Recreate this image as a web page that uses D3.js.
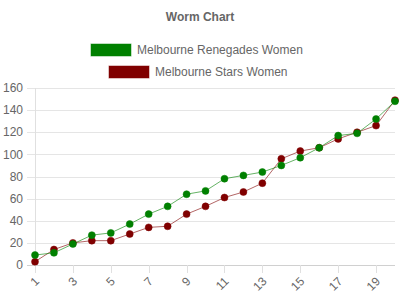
<!DOCTYPE html>
<html>
<head>
<meta charset="utf-8">
<script src="https://cdn.jsdelivr.net/npm/d3@7"></script>
<style>
  body { margin: 0; background: #fff; }
  text { font-family: "Liberation Sans", Arial, sans-serif; }
</style>
</head>
<body>
<script>
// Data
var overs = d3.range(1, 21);
var renegades = [9, 11, 19, 27, 29, 37, 46, 53, 64, 67, 78, 81, 84, 90, 97, 106, 117, 119, 132, 148];
var stars = [3, 14, 20, 22, 22, 28, 34, 35, 46, 53, 61, 66, 74, 96, 103, 106, 114, 120, 126, 149];
var yTicks = [0, 20, 40, 60, 80, 100, 120, 140, 160];

var series = [
    { name: "Melbourne Renegades Women", values: renegades, fill: "#008000", line: "rgba(0,128,0,0.6)", border: "rgba(0,128,0,0.5)" },
    { name: "Melbourne Stars Women", values: stars, fill: "#800000", line: "rgba(128,0,0,0.6)", border: "rgba(128,0,0,0.5)" }
];

var margin = { top: 88, right: 5, bottom: 35, left: 35 },
    width = 400 - margin.left - margin.right,
    height = 300 - margin.top - margin.bottom;

var svg = d3.select("body")
    .append("svg")
    .attr("width", 400)
    .attr("height", 300);

// Title
svg.append("text")
    .attr("x", 200)
    .attr("y", 21)
    .attr("text-anchor", "middle")
    .style("font-size", "12px")
    .style("font-weight", "bold")
    .style("fill", "#666")
    .text("Worm Chart");

// Legend
var legendRows = [{ y: 44, bx: 91 }, { y: 66, bx: 109 }];
series.forEach(function (s, i) {
    var r = legendRows[i];
    svg.append("rect")
        .attr("x", r.bx)
        .attr("y", r.y)
        .attr("width", 40)
        .attr("height", 12)
        .style("fill", s.fill)
        .style("stroke", s.border)
        .style("stroke-width", 1);
    svg.append("text")
        .attr("x", r.bx + 46)
        .attr("y", r.y + 10)
        .style("font-size", "12px")
        .style("fill", "#666")
        .text(s.name);
});

var g = svg.append("g")
    .attr("transform", "translate(" + margin.left + "," + margin.top + ")");

var x = d3.scalePoint()
    .domain(overs)
    .range([0, width]);

var y = d3.scaleLinear()
    .domain([0, 160])
    .range([height, 0]);

// Gridlines
g.selectAll(".grid")
    .data(yTicks)
    .enter().append("line")
    .attr("x1", -8)
    .attr("x2", width)
    .attr("y1", function (d) { return Math.round(y(d)) + 0.5; })
    .attr("y2", function (d) { return Math.round(y(d)) + 0.5; })
    .style("stroke", function (d) { return d === 0 ? "#d0d0d0" : "#e5e5e5"; })
    .style("stroke-width", 1);

// Y axis line
g.append("line")
    .attr("x1", 0.5).attr("x2", 0.5)
    .attr("y1", 0).attr("y2", height + 8)
    .style("stroke", "#e0e0e0");

// X tick marks for odd overs
var oddOvers = overs.filter(function (d) { return d % 2 === 1; });
g.selectAll(".xtick")
    .data(oddOvers)
    .enter().append("line")
    .attr("x1", function (d) { return Math.round(x(d)) + 0.5; })
    .attr("x2", function (d) { return Math.round(x(d)) + 0.5; })
    .attr("y1", height)
    .attr("y2", height + 8)
    .style("stroke", "#e0e0e0");

// Y tick labels
g.selectAll(".ylabel")
    .data(yTicks)
    .enter().append("text")
    .attr("x", -12)
    .attr("y", function (d) { return y(d); })
    .attr("dy", "0.35em")
    .attr("text-anchor", "end")
    .style("font-size", "12px")
    .style("fill", "#666")
    .text(function (d) { return d; });

// X tick labels, rotated
g.selectAll(".xlabel")
    .data(oddOvers)
    .enter().append("text")
    .attr("transform", function (d) { return "translate(" + (x(d) + 5) + "," + (height + 17) + ") rotate(-45)"; })
    .attr("text-anchor", "end")
    .style("font-size", "12px")
    .style("fill", "#666")
    .text(function (d) { return d; });

// Lines and points - draw last series first so the first sits on top
var line = d3.line()
    .x(function (d, i) { return x(overs[i]); })
    .y(function (d) { return y(d); });

series.slice().reverse().forEach(function (s) {
    g.append("path")
        .datum(s.values)
        .attr("d", line)
        .style("fill", "none")
        .style("stroke", s.line)
        .style("stroke-width", 1);

    g.selectAll(".pt")
        .data(s.values)
        .enter().append("circle")
        .attr("cx", function (d, i) { return x(overs[i]); })
        .attr("cy", function (d) { return y(d); })
        .attr("r", 3.5)
        .style("fill", s.fill)
        .style("stroke", s.border)
        .style("stroke-width", 1);
});
</script>
</body>
</html>
